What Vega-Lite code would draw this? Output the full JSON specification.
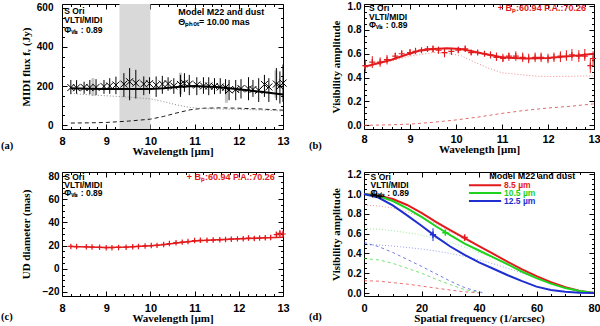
{
"$schema": "https://vega.github.io/schema/vega-lite/v6.json",
"background": "white",
"padding": {"left": 0, "top": 0, "right": 0, "bottom": 0},
"columns": 2,
"spacing": {"row": 43, "column": 81},
"bounds": "flush",
"resolve": {"scale": {"color": "independent"}, "legend": {"color": "independent"}},
"datasets": {
"a_pts": [
{"w":8.20,"f":192,"lo":158,"hi":231},{"w":8.33,"f":191,"lo":160,"hi":230},{"w":8.50,"f":193,"lo":160,"hi":222},{"w":8.63,"f":192,"lo":158,"hi":231},{"w":8.77,"f":193,"lo":153,"hi":235},{"w":8.95,"f":198,"lo":160,"hi":231},{"w":9.08,"f":200,"lo":160,"hi":240},{"w":9.22,"f":205,"lo":158,"hi":248},{"w":9.40,"f":210,"lo":144,"hi":266},{"w":9.53,"f":222,"lo":127,"hi":292},{"w":9.67,"f":215,"lo":136,"hi":283},{"w":9.85,"f":210,"lo":153,"hi":249},{"w":9.98,"f":212,"lo":160,"hi":245},{"w":10.13,"f":205,"lo":144,"hi":249},{"w":10.27,"f":210,"lo":160,"hi":252},{"w":10.40,"f":212,"lo":176,"hi":245},{"w":10.53,"f":200,"lo":160,"hi":240},{"w":10.68,"f":208,"lo":144,"hi":257},{"w":10.77,"f":214,"lo":170,"hi":266},{"w":10.88,"f":210,"lo":153,"hi":257},{"w":11.05,"f":205,"lo":153,"hi":245},{"w":11.20,"f":200,"lo":160,"hi":245},{"w":11.32,"f":200,"lo":153,"hi":245},{"w":11.45,"f":198,"lo":158,"hi":240},{"w":11.58,"f":195,"lo":160,"hi":240},{"w":11.70,"f":193,"lo":158,"hi":235},{"w":11.78,"f":180,"lo":127,"hi":231},{"w":11.93,"f":182,"lo":127,"hi":231},{"w":12.05,"f":187,"lo":136,"hi":235},{"w":12.22,"f":185,"lo":127,"hi":245},{"w":12.32,"f":182,"lo":144,"hi":231},{"w":12.45,"f":178,"lo":118,"hi":240},{"w":12.58,"f":208,"lo":144,"hi":257},{"w":12.68,"f":195,"lo":118,"hi":240},{"w":12.85,"f":210,"lo":127,"hi":292},{"w":12.93,"f":200,"lo":110,"hi":275},{"w":13.00,"f":215,"lo":118,"hi":310}
],
"a_gray": [{"w":8.70,"lo":150,"hi":240},{"w":10.68,"lo":157,"hi":268},{"w":11.72,"lo":114,"hi":200},{"w":12.84,"lo":140,"hi":280}],
"a_model": [{"w":8.2,"f":188},{"w":8.6,"f":186},{"w":9.0,"f":185},{"w":9.5,"f":184},{"w":10.0,"f":185},{"w":10.3,"f":188},{"w":10.6,"f":195},{"w":11.0,"f":200},{"w":11.5,"f":195},{"w":12.0,"f":183},{"w":12.5,"f":170},{"w":13.0,"f":156}],
"a_star": [{"w":8.2,"f":162},{"w":8.6,"f":155},{"w":9.0,"f":150},{"w":9.5,"f":143},{"w":10.0,"f":134},{"w":10.3,"f":120},{"w":10.6,"f":103},{"w":10.9,"f":90},{"w":11.2,"f":84},{"w":11.6,"f":82},{"w":12.0,"f":80},{"w":12.5,"f":77},{"w":13.0,"f":72}],
"a_dust": [{"w":8.2,"f":10},{"w":8.6,"f":11},{"w":9.0,"f":13},{"w":9.5,"f":20},{"w":10.0,"f":30},{"w":10.3,"f":44},{"w":10.6,"f":62},{"w":10.9,"f":78},{"w":11.2,"f":86},{"w":11.6,"f":88},{"w":12.0,"f":86},{"w":12.5,"f":82},{"w":13.0,"f":76}],
"b_pts": [
{"w":8.03,"v":0.50,"lo":0.45,"hi":0.55},{"w":8.18,"v":0.53,"lo":0.48,"hi":0.58},{"w":8.35,"v":0.53,"lo":0.49,"hi":0.57},{"w":8.50,"v":0.55,"lo":0.51,"hi":0.59},{"w":8.68,"v":0.58,"lo":0.55,"hi":0.61},{"w":8.82,"v":0.60,"lo":0.57,"hi":0.63},{"w":9.00,"v":0.61,"lo":0.59,"hi":0.64},{"w":9.12,"v":0.62,"lo":0.60,"hi":0.65},{"w":9.25,"v":0.63,"lo":0.61,"hi":0.65},{"w":9.38,"v":0.64,"lo":0.62,"hi":0.66},{"w":9.50,"v":0.64,"lo":0.61,"hi":0.67},{"w":9.62,"v":0.63,"lo":0.60,"hi":0.66},{"w":9.75,"v":0.61,"lo":0.57,"hi":0.64},{"w":9.90,"v":0.62,"lo":0.59,"hi":0.65},{"w":10.05,"v":0.63,"lo":0.61,"hi":0.66},{"w":10.20,"v":0.64,"lo":0.62,"hi":0.67},{"w":10.33,"v":0.61,"lo":0.59,"hi":0.63},{"w":10.47,"v":0.61,"lo":0.59,"hi":0.63},{"w":10.62,"v":0.60,"lo":0.58,"hi":0.62},{"w":10.75,"v":0.59,"lo":0.56,"hi":0.62},{"w":10.88,"v":0.57,"lo":0.54,"hi":0.61},{"w":11.02,"v":0.56,"lo":0.53,"hi":0.60},{"w":11.15,"v":0.58,"lo":0.54,"hi":0.61},{"w":11.30,"v":0.58,"lo":0.54,"hi":0.62},{"w":11.45,"v":0.57,"lo":0.53,"hi":0.61},{"w":11.58,"v":0.56,"lo":0.52,"hi":0.60},{"w":11.72,"v":0.57,"lo":0.53,"hi":0.61},{"w":11.85,"v":0.57,"lo":0.53,"hi":0.61},{"w":12.00,"v":0.56,"lo":0.52,"hi":0.60},{"w":12.13,"v":0.57,"lo":0.53,"hi":0.61},{"w":12.27,"v":0.58,"lo":0.53,"hi":0.62},{"w":12.40,"v":0.58,"lo":0.54,"hi":0.63},{"w":12.52,"v":0.59,"lo":0.54,"hi":0.64},{"w":12.67,"v":0.58,"lo":0.53,"hi":0.63},{"w":12.80,"v":0.58,"lo":0.54,"hi":0.64},{"w":12.92,"v":0.50,"lo":0.44,"hi":0.56},{"w":12.98,"v":0.56,"lo":0.50,"hi":0.62}
],
"b_model": [{"w":8.0,"v":0.49},{"w":8.3,"v":0.52},{"w":8.6,"v":0.55},{"w":8.9,"v":0.59},{"w":9.2,"v":0.625},{"w":9.5,"v":0.64},{"w":9.8,"v":0.645},{"w":10.1,"v":0.64},{"w":10.3,"v":0.625},{"w":10.6,"v":0.60},{"w":11.0,"v":0.57},{"w":11.5,"v":0.56},{"w":12.0,"v":0.565},{"w":12.5,"v":0.58},{"w":13.0,"v":0.60}],
"b_star": [{"w":8.0,"v":0.48},{"w":8.5,"v":0.53},{"w":9.0,"v":0.58},{"w":9.5,"v":0.61},{"w":9.8,"v":0.605},{"w":10.1,"v":0.585},{"w":10.4,"v":0.53},{"w":10.7,"v":0.48},{"w":11.0,"v":0.44},{"w":11.4,"v":0.425},{"w":11.8,"v":0.41},{"w":12.4,"v":0.41},{"w":13.0,"v":0.415}],
"b_dust": [{"w":8.0,"v":0.0},{"w":8.5,"v":0.003},{"w":9.0,"v":0.01},{"w":9.5,"v":0.025},{"w":10.0,"v":0.045},{"w":10.5,"v":0.07},{"w":11.0,"v":0.10},{"w":11.5,"v":0.125},{"w":12.0,"v":0.145},{"w":12.5,"v":0.16},{"w":13.0,"v":0.18}],
"c_pts": [
{"w":8.20,"d":19.3,"lo":18.5,"hi":20.1},{"w":8.33,"d":19.2,"lo":18.4,"hi":20.0},{"w":8.55,"d":19.0,"lo":18.2,"hi":19.8},{"w":8.68,"d":18.8,"lo":18.0,"hi":19.6},{"w":8.85,"d":18.5,"lo":17.7,"hi":19.3},{"w":9.00,"d":18.2,"lo":17.4,"hi":19.0},{"w":9.13,"d":18.2,"lo":17.4,"hi":19.0},{"w":9.28,"d":18.4,"lo":17.6,"hi":19.2},{"w":9.45,"d":18.6,"lo":17.6,"hi":19.6},{"w":9.60,"d":19.0,"lo":17.8,"hi":20.2},{"w":9.73,"d":19.3,"lo":18.3,"hi":20.3},{"w":9.88,"d":19.7,"lo":18.8,"hi":20.6},{"w":10.02,"d":20.0,"lo":19.1,"hi":20.9},{"w":10.15,"d":20.2,"lo":19.3,"hi":21.1},{"w":10.30,"d":21.0,"lo":20.2,"hi":21.8},{"w":10.43,"d":21.8,"lo":21.0,"hi":22.6},{"w":10.58,"d":22.5,"lo":21.6,"hi":23.4},{"w":10.72,"d":23.0,"lo":22.0,"hi":24.0},{"w":10.85,"d":23.5,"lo":22.5,"hi":24.5},{"w":11.00,"d":24.3,"lo":23.2,"hi":25.4},{"w":11.13,"d":24.6,"lo":23.5,"hi":25.7},{"w":11.28,"d":24.6,"lo":23.4,"hi":25.8},{"w":11.42,"d":24.8,"lo":23.6,"hi":26.0},{"w":11.57,"d":25.0,"lo":23.8,"hi":26.2},{"w":11.70,"d":25.2,"lo":24.0,"hi":26.4},{"w":11.83,"d":25.5,"lo":24.2,"hi":26.8},{"w":11.97,"d":25.8,"lo":24.4,"hi":27.2},{"w":12.10,"d":26.0,"lo":24.6,"hi":27.4},{"w":12.22,"d":26.5,"lo":24.5,"hi":28.5},{"w":12.35,"d":26.2,"lo":24.6,"hi":27.8},{"w":12.47,"d":26.5,"lo":24.8,"hi":28.2},{"w":12.60,"d":26.8,"lo":25.0,"hi":28.6},{"w":12.72,"d":27.0,"lo":24.8,"hi":29.2},{"w":12.85,"d":29.5,"lo":27.0,"hi":32.0},{"w":12.93,"d":30.5,"lo":27.5,"hi":33.5},{"w":13.00,"d":30.0,"lo":27.0,"hi":33.0}
],
"c_model": [{"w":8.2,"d":19.2},{"w":8.6,"d":18.9},{"w":9.0,"d":18.4},{"w":9.5,"d":18.7},{"w":10.0,"d":19.8},{"w":10.3,"d":20.8},{"w":10.6,"d":22.3},{"w":11.0,"d":24.0},{"w":11.5,"d":25.0},{"w":12.0,"d":25.8},{"w":12.5,"d":26.5},{"w":13.0,"d":27.2}],
"d_solid": [
{"lam":"8.5 µm","f":0,"v":1.0},{"lam":"8.5 µm","f":5,"v":0.985},{"lam":"8.5 µm","f":10,"v":0.95},{"lam":"8.5 µm","f":15,"v":0.89},{"lam":"8.5 µm","f":20,"v":0.81},{"lam":"8.5 µm","f":25,"v":0.72},{"lam":"8.5 µm","f":30,"v":0.635},{"lam":"8.5 µm","f":35,"v":0.555},{"lam":"8.5 µm","f":40,"v":0.475},{"lam":"8.5 µm","f":45,"v":0.395},{"lam":"8.5 µm","f":50,"v":0.315},{"lam":"8.5 µm","f":55,"v":0.24},{"lam":"8.5 µm","f":60,"v":0.17},{"lam":"8.5 µm","f":65,"v":0.11},{"lam":"8.5 µm","f":70,"v":0.06},{"lam":"8.5 µm","f":75,"v":0.02},{"lam":"8.5 µm","f":80,"v":0.0},
{"lam":"10.5 µm","f":0,"v":1.0},{"lam":"10.5 µm","f":5,"v":0.98},{"lam":"10.5 µm","f":10,"v":0.93},{"lam":"10.5 µm","f":15,"v":0.855},{"lam":"10.5 µm","f":20,"v":0.77},{"lam":"10.5 µm","f":25,"v":0.675},{"lam":"10.5 µm","f":30,"v":0.585},{"lam":"10.5 µm","f":35,"v":0.5},{"lam":"10.5 µm","f":40,"v":0.43},{"lam":"10.5 µm","f":45,"v":0.36},{"lam":"10.5 µm","f":50,"v":0.29},{"lam":"10.5 µm","f":55,"v":0.215},{"lam":"10.5 µm","f":60,"v":0.15},{"lam":"10.5 µm","f":65,"v":0.095},{"lam":"10.5 µm","f":70,"v":0.05},{"lam":"10.5 µm","f":75,"v":0.02},{"lam":"10.5 µm","f":80,"v":0.0},
{"lam":"12.5 µm","f":0,"v":1.0},{"lam":"12.5 µm","f":5,"v":0.965},{"lam":"12.5 µm","f":10,"v":0.885},{"lam":"12.5 µm","f":15,"v":0.785},{"lam":"12.5 µm","f":20,"v":0.68},{"lam":"12.5 µm","f":25,"v":0.57},{"lam":"12.5 µm","f":30,"v":0.47},{"lam":"12.5 µm","f":35,"v":0.385},{"lam":"12.5 µm","f":40,"v":0.31},{"lam":"12.5 µm","f":45,"v":0.245},{"lam":"12.5 µm","f":50,"v":0.18},{"lam":"12.5 µm","f":55,"v":0.12},{"lam":"12.5 µm","f":60,"v":0.065},{"lam":"12.5 µm","f":65,"v":0.03},{"lam":"12.5 µm","f":70,"v":0.012},{"lam":"12.5 µm","f":75,"v":0.003},{"lam":"12.5 µm","f":80,"v":0.0}
],
"d_star": [
{"lam":"8.5 µm","f":0,"v":0.89},{"lam":"8.5 µm","f":5,"v":0.88},{"lam":"8.5 µm","f":10,"v":0.86},{"lam":"8.5 µm","f":15,"v":0.82},{"lam":"8.5 µm","f":20,"v":0.77},{"lam":"8.5 µm","f":25,"v":0.70},{"lam":"8.5 µm","f":30,"v":0.62},{"lam":"8.5 µm","f":35,"v":0.545},{"lam":"8.5 µm","f":40,"v":0.47},{"lam":"8.5 µm","f":45,"v":0.39},{"lam":"8.5 µm","f":50,"v":0.315},{"lam":"8.5 µm","f":55,"v":0.24},{"lam":"8.5 µm","f":60,"v":0.17},{"lam":"8.5 µm","f":65,"v":0.11},{"lam":"8.5 µm","f":70,"v":0.06},{"lam":"8.5 µm","f":75,"v":0.02},{"lam":"8.5 µm","f":80,"v":0.0},
{"lam":"10.5 µm","f":0,"v":0.65},{"lam":"10.5 µm","f":5,"v":0.645},{"lam":"10.5 µm","f":10,"v":0.63},{"lam":"10.5 µm","f":15,"v":0.61},{"lam":"10.5 µm","f":20,"v":0.585},{"lam":"10.5 µm","f":25,"v":0.55},{"lam":"10.5 µm","f":30,"v":0.51},{"lam":"10.5 µm","f":35,"v":0.465},{"lam":"10.5 µm","f":40,"v":0.41},{"lam":"10.5 µm","f":45,"v":0.35},{"lam":"10.5 µm","f":50,"v":0.285},{"lam":"10.5 µm","f":55,"v":0.215},{"lam":"10.5 µm","f":60,"v":0.15},{"lam":"10.5 µm","f":65,"v":0.095},{"lam":"10.5 µm","f":70,"v":0.05},{"lam":"10.5 µm","f":75,"v":0.02},{"lam":"10.5 µm","f":80,"v":0.0},
{"lam":"12.5 µm","f":0,"v":0.49},{"lam":"12.5 µm","f":5,"v":0.485},{"lam":"12.5 µm","f":10,"v":0.475},{"lam":"12.5 µm","f":15,"v":0.46},{"lam":"12.5 µm","f":20,"v":0.445},{"lam":"12.5 µm","f":25,"v":0.425},{"lam":"12.5 µm","f":30,"v":0.40},{"lam":"12.5 µm","f":35,"v":0.37},{"lam":"12.5 µm","f":40,"v":0.335},{"lam":"12.5 µm","f":45,"v":0.295},{"lam":"12.5 µm","f":50,"v":0.25},{"lam":"12.5 µm","f":55,"v":0.2},{"lam":"12.5 µm","f":60,"v":0.15},{"lam":"12.5 µm","f":65,"v":0.105},{"lam":"12.5 µm","f":70,"v":0.065},{"lam":"12.5 µm","f":75,"v":0.03},{"lam":"12.5 µm","f":80,"v":0.01}
],
"d_dust": [
{"lam":"8.5 µm","f":0,"v":0.125},{"lam":"8.5 µm","f":5,"v":0.12},{"lam":"8.5 µm","f":10,"v":0.105},{"lam":"8.5 µm","f":15,"v":0.09},{"lam":"8.5 µm","f":20,"v":0.07},{"lam":"8.5 µm","f":25,"v":0.05},{"lam":"8.5 µm","f":30,"v":0.03},{"lam":"8.5 µm","f":35,"v":0.012},{"lam":"8.5 µm","f":40,"v":0.002},
{"lam":"10.5 µm","f":0,"v":0.35},{"lam":"10.5 µm","f":5,"v":0.335},{"lam":"10.5 µm","f":10,"v":0.30},{"lam":"10.5 µm","f":15,"v":0.25},{"lam":"10.5 µm","f":20,"v":0.20},{"lam":"10.5 µm","f":25,"v":0.14},{"lam":"10.5 µm","f":30,"v":0.085},{"lam":"10.5 µm","f":35,"v":0.035},{"lam":"10.5 µm","f":40,"v":0.005},
{"lam":"12.5 µm","f":0,"v":0.51},{"lam":"12.5 µm","f":5,"v":0.47},{"lam":"12.5 µm","f":10,"v":0.41},{"lam":"12.5 µm","f":15,"v":0.34},{"lam":"12.5 µm","f":20,"v":0.27},{"lam":"12.5 µm","f":25,"v":0.195},{"lam":"12.5 µm","f":30,"v":0.12},{"lam":"12.5 µm","f":35,"v":0.055},{"lam":"12.5 µm","f":40,"v":0.012},{"lam":"12.5 µm","f":42,"v":0.0}
],
"d_pts": [{"lam":"8.5 µm","f":35,"v":0.56,"lo":0.53,"hi":0.59},{"lam":"10.5 µm","f":28.3,"v":0.61,"lo":0.595,"hi":0.625},{"lam":"12.5 µm","f":24,"v":0.59,"lo":0.525,"hi":0.655}],
"d_blk": [{"f":3.0,"v":0.99,"lo":0.98,"hi":1.0},{"f":4.3,"v":0.985,"lo":0.975,"hi":0.995},{"f":5.6,"v":0.975,"lo":0.965,"hi":0.985}]
},
"concat": [
{
"width": 221, "height": 125,
"resolve": {"axis": {"x": "independent", "y": "independent"}},
"layer": [
{"data": {"values": [{"lo": 9.3, "hi": 10.0}]}, "mark": {"type": "rect", "color": "#d9d9d9"},
 "encoding": {"x": {"field": "lo", "type": "quantitative", "axis": null, "scale": {"domain": [8, 13], "nice": false, "zero": false}}, "x2": {"field": "hi"}}},
{"data": {"name": "a_gray"}, "mark": {"type": "rule", "color": "#c4c4c4", "strokeWidth": 3},
 "encoding": {"x": {"field": "w", "type": "quantitative", "axis": null}, "y": {"field": "lo", "type": "quantitative", "axis": null, "scale": {"domain": [-20.5, 620.5], "nice": false, "zero": false}}, "y2": {"field": "hi"}}},
{"data": {"name": "a_pts"}, "mark": {"type": "rule", "color": "black", "strokeWidth": 1},
 "encoding": {"x": {"field": "w", "type": "quantitative", "axis": null}, "y": {"field": "lo", "type": "quantitative", "axis": null}, "y2": {"field": "hi"}}},
{"data": {"name": "a_dust"}, "mark": {"type": "line", "color": "black", "strokeWidth": 0.9, "strokeDash": [4, 3]},
 "encoding": {"x": {"field": "w", "type": "quantitative", "axis": {"orient": "bottom", "values": [8.2,8.4,8.6,8.8,9.2,9.4,9.6,9.8,10.2,10.4,10.6,10.8,11.2,11.4,11.6,11.8,12.2,12.4,12.6,12.8], "labels": false, "title": null, "tickSize": -2.5}},
  "y": {"field": "f", "type": "quantitative", "axis": {"orient": "left", "values": [50,100,150,250,300,350,450,500,550], "labels": false, "title": null, "tickSize": -2.5}}}},
{"data": {"name": "a_star"}, "mark": {"type": "line", "color": "#8a8a8a", "strokeWidth": 1, "strokeDash": [1, 2]},
 "encoding": {"x": {"field": "w", "type": "quantitative", "axis": {"orient": "top", "values": [8,9,10,11,12,13], "labels": false, "title": null, "tickSize": -5}},
  "y": {"field": "f", "type": "quantitative", "axis": {"orient": "right", "values": [0,200,400,600], "labels": false, "title": null, "tickSize": -5}}}},
{"data": {"name": "a_model"}, "mark": {"type": "line", "color": "black", "strokeWidth": 2},
 "encoding": {"x": {"field": "w", "type": "quantitative", "axis": {"orient": "bottom", "values": [8,9,10,11,12,13], "title": "Wavelength [µm]", "tickSize": -5, "labelPadding": 11, "titlePadding": -1}},
  "y": {"field": "f", "type": "quantitative", "axis": {"orient": "left", "values": [0,200,400,600], "title": "MIDI flux fᵥ (Jy)", "tickSize": -5, "labelPadding": 14, "titlePadding": 5}}}},
{"data": {"name": "a_pts"}, "mark": {"type": "point", "shape": "M-1,-1L1,1M-1,1L1,-1", "filled": false, "color": "black", "strokeWidth": 1, "size": 49, "opacity": 1},
 "encoding": {"x": {"field": "w", "type": "quantitative", "axis": {"orient": "top", "values": [8.2,8.4,8.6,8.8,9.2,9.4,9.6,9.8,10.2,10.4,10.6,10.8,11.2,11.4,11.6,11.8,12.2,12.4,12.6,12.8], "labels": false, "title": null, "tickSize": -2.5}},
  "y": {"field": "f", "type": "quantitative", "axis": {"orient": "right", "values": [50,100,150,250,300,350,450,500,550], "labels": false, "title": null, "tickSize": -2.5}}}},
{"data": {"values": [{}]}, "mark": {"type": "text", "align": "left", "baseline": "top", "fontSize": 8.5, "lineHeight": 9.5, "color": "black"},
 "encoding": {"x": {"datum": 8.05, "type": "quantitative", "axis": null}, "y": {"datum": 607, "type": "quantitative", "axis": null}, "text": {"value": ["S Ori", "VLTI/MIDI", "Φᵥᵢₛ : 0.89"]}}},
{"data": {"values": [{}]}, "mark": {"type": "text", "align": "left", "baseline": "top", "fontSize": 9, "lineHeight": 9.5, "color": "black"},
 "encoding": {"x": {"datum": 10.63, "type": "quantitative", "axis": null}, "y": {"datum": 598, "type": "quantitative", "axis": null}, "text": {"value": ["Model M22 and dust", " Θₚₕₒₜ= 10.00 mas"]}}},
{"data": {"values": [{}]}, "mark": {"type": "text", "align": "left", "baseline": "middle", "font": "Liberation Serif", "fontSize": 10.5, "color": "black"},
 "encoding": {"x": {"datum": 6.62, "type": "quantitative", "axis": null}, "y": {"datum": -110, "type": "quantitative", "axis": null}, "text": {"value": "(a)"}}}
]
},
{
"width": 230, "height": 125,
"resolve": {"axis": {"x": "independent", "y": "independent"}},
"layer": [
{"data": {"name": "b_dust"}, "mark": {"type": "line", "color": "#e05a5a", "strokeWidth": 0.9, "strokeDash": [3, 3]},
 "encoding": {"x": {"field": "w", "type": "quantitative", "scale": {"domain": [8, 13], "nice": false, "zero": false}, "axis": {"orient": "bottom", "values": [8.2,8.4,8.6,8.8,9.2,9.4,9.6,9.8,10.2,10.4,10.6,10.8,11.2,11.4,11.6,11.8,12.2,12.4,12.6,12.8], "labels": false, "title": null, "tickSize": -2.5}},
  "y": {"field": "v", "type": "quantitative", "scale": {"domain": [-0.031, 1.017], "nice": false, "zero": false}, "axis": {"orient": "left", "values": [0.05,0.1,0.15,0.25,0.3,0.35,0.45,0.5,0.55,0.65,0.7,0.75,0.85,0.9,0.95], "labels": false, "title": null, "tickSize": -2.5}}}},
{"data": {"name": "b_star"}, "mark": {"type": "line", "color": "#f08c8c", "strokeWidth": 1, "strokeDash": [1, 2]},
 "encoding": {"x": {"field": "w", "type": "quantitative", "axis": {"orient": "top", "values": [8,9,10,11,12,13], "labels": false, "title": null, "tickSize": -5}},
  "y": {"field": "v", "type": "quantitative", "axis": {"orient": "right", "values": [0,0.2,0.4,0.6,0.8,1.0], "labels": false, "title": null, "tickSize": -5}}}},
{"data": {"name": "b_pts"}, "mark": {"type": "rule", "color": "#e31a1c", "strokeWidth": 1},
 "encoding": {"x": {"field": "w", "type": "quantitative", "axis": {"orient": "top", "values": [8.2,8.4,8.6,8.8,9.2,9.4,9.6,9.8,10.2,10.4,10.6,10.8,11.2,11.4,11.6,11.8,12.2,12.4,12.6,12.8], "labels": false, "title": null, "tickSize": -2.5}},
  "y": {"field": "lo", "type": "quantitative", "axis": {"orient": "right", "values": [0.05,0.1,0.15,0.25,0.3,0.35,0.45,0.5,0.55,0.65,0.7,0.75,0.85,0.9,0.95], "labels": false, "title": null, "tickSize": -2.5}}, "y2": {"field": "hi"}}},
{"data": {"name": "b_model"}, "mark": {"type": "line", "color": "#e31a1c", "strokeWidth": 2},
 "encoding": {"x": {"field": "w", "type": "quantitative", "axis": {"orient": "bottom", "values": [8,9,10,11,12,13], "title": "Wavelength [µm]", "tickSize": -5, "labelPadding": 9, "titlePadding": -1}},
  "y": {"field": "v", "type": "quantitative", "axis": {"orient": "left", "values": [0,0.2,0.4,0.6,0.8,1.0], "format": ".1f", "title": "Visibility amplitude", "tickSize": -5, "labelPadding": 8, "titlePadding": 6}}}},
{"data": {"name": "b_pts"}, "mark": {"type": "point", "shape": "M-1,0L1,0M0,-1L0,1", "filled": false, "color": "#e31a1c", "strokeWidth": 1.2, "size": 36, "opacity": 1},
 "encoding": {"x": {"field": "w", "type": "quantitative", "axis": null}, "y": {"field": "v", "type": "quantitative", "axis": null}}},
{"data": {"values": [{}]}, "mark": {"type": "text", "align": "left", "baseline": "top", "fontSize": 8.5, "lineHeight": 8.5, "color": "black"},
 "encoding": {"x": {"datum": 8.11, "type": "quantitative", "axis": null}, "y": {"datum": 1.014, "type": "quantitative", "axis": null}, "text": {"value": ["S Ori", "VLTI/MIDI", "Φᵥᵢₛ : 0.89"]}}},
{"data": {"values": [{}]}, "mark": {"type": "text", "align": "left", "baseline": "top", "fontSize": 9, "color": "#e31a1c"},
 "encoding": {"x": {"datum": 10.91, "type": "quantitative", "axis": null}, "y": {"datum": 1.016, "type": "quantitative", "axis": null}, "text": {"value": "+ Bₚ:60.94  P.A.:70.26"}}},
{"data": {"values": [{}]}, "mark": {"type": "text", "align": "left", "baseline": "middle", "font": "Liberation Serif", "fontSize": 10.5, "color": "black"},
 "encoding": {"x": {"datum": 6.804, "type": "quantitative", "axis": null}, "y": {"datum": -0.175, "type": "quantitative", "axis": null}, "text": {"value": "(b)"}}}
]
},
{
"width": 221, "height": 124,
"resolve": {"axis": {"x": "independent", "y": "independent"}},
"layer": [
{"data": {"name": "c_pts"}, "mark": {"type": "rule", "color": "#e31a1c", "strokeWidth": 1},
 "encoding": {"x": {"field": "w", "type": "quantitative", "scale": {"domain": [8, 13], "nice": false, "zero": false}, "axis": {"orient": "bottom", "values": [8.2,8.4,8.6,8.8,9.2,9.4,9.6,9.8,10.2,10.4,10.6,10.8,11.2,11.4,11.6,11.8,12.2,12.4,12.6,12.8], "labels": false, "title": null, "tickSize": -2.5}},
  "y": {"field": "lo", "type": "quantitative", "scale": {"domain": [-23.45, 83.45], "nice": false, "zero": false}, "axis": {"orient": "left", "values": [-15,-10,-5,5,10,15,25,30,35,45,50,55,65,70,75], "labels": false, "title": null, "tickSize": -2.5}}, "y2": {"field": "hi"}}},
{"data": {"name": "c_model"}, "mark": {"type": "line", "color": "#e31a1c", "strokeWidth": 1.5},
 "encoding": {"x": {"field": "w", "type": "quantitative", "axis": {"orient": "bottom", "values": [8,9,10,11,12,13], "title": "Wavelength [µm]", "tickSize": -5, "labelPadding": 11, "titlePadding": -1}},
  "y": {"field": "d", "type": "quantitative", "axis": {"orient": "left", "values": [-20,0,20,40,60,80], "title": "UD diameter (mas)", "tickSize": -5, "labelPadding": 8, "titlePadding": 11}}}},
{"data": {"name": "c_pts"}, "mark": {"type": "point", "shape": "M-1,0L1,0M0,-1L0,1", "filled": false, "color": "#e31a1c", "strokeWidth": 1.2, "size": 30, "opacity": 1},
 "encoding": {"x": {"field": "w", "type": "quantitative", "axis": {"orient": "top", "values": [8,9,10,11,12,13], "labels": false, "title": null, "tickSize": -5}},
  "y": {"field": "d", "type": "quantitative", "axis": {"orient": "right", "values": [-20,0,20,40,60,80], "labels": false, "title": null, "tickSize": -5}}}},
{"data": {"name": "c_model"}, "mark": {"type": "line", "color": "#e31a1c", "strokeWidth": 0, "opacity": 0},
 "encoding": {"x": {"field": "w", "type": "quantitative", "axis": {"orient": "top", "values": [8.2,8.4,8.6,8.8,9.2,9.4,9.6,9.8,10.2,10.4,10.6,10.8,11.2,11.4,11.6,11.8,12.2,12.4,12.6,12.8], "labels": false, "title": null, "tickSize": -2.5}},
  "y": {"field": "d", "type": "quantitative", "axis": {"orient": "right", "values": [-15,-10,-5,5,10,15,25,30,35,45,50,55,65,70,75], "labels": false, "title": null, "tickSize": -2.5}}}},
{"data": {"values": [{}]}, "mark": {"type": "text", "align": "left", "baseline": "top", "fontSize": 8.5, "lineHeight": 8, "color": "black"},
 "encoding": {"x": {"datum": 8.05, "type": "quantitative", "axis": null}, "y": {"datum": 83, "type": "quantitative", "axis": null}, "text": {"value": ["S Ori", "VLTI/MIDI", "Φᵥᵢₛ : 0.89"]}}},
{"data": {"values": [{}]}, "mark": {"type": "text", "align": "left", "baseline": "top", "fontSize": 9, "color": "#e31a1c"},
 "encoding": {"x": {"datum": 10.82, "type": "quantitative", "axis": null}, "y": {"datum": 83, "type": "quantitative", "axis": null}, "text": {"value": "+ Bₚ:60.94  P.A.:70.26"}}},
{"data": {"values": [{}]}, "mark": {"type": "text", "align": "left", "baseline": "middle", "font": "Liberation Serif", "fontSize": 10.5, "color": "black"},
 "encoding": {"x": {"datum": 6.62, "type": "quantitative", "axis": null}, "y": {"datum": -41.5, "type": "quantitative", "axis": null}, "text": {"value": "(c)"}}}
]
},
{
"width": 230, "height": 124,
"resolve": {"axis": {"x": "independent", "y": "independent"}},
"layer": [
{"data": {"name": "d_dust"}, "mark": {"type": "line", "strokeWidth": 0.9, "strokeDash": [3, 3], "opacity": 0.7},
 "encoding": {"x": {"field": "f", "type": "quantitative", "scale": {"domain": [0, 80], "nice": false, "zero": false}, "axis": {"orient": "bottom", "values": [5,10,15,25,30,35,45,50,55,65,70,75], "labels": false, "title": null, "tickSize": -2.5}},
  "y": {"field": "v", "type": "quantitative", "scale": {"domain": [-0.03, 1.223], "nice": false, "zero": false}, "axis": {"orient": "left", "values": [0.05,0.1,0.15,0.25,0.3,0.35,0.45,0.5,0.55,0.65,0.7,0.75,0.85,0.9,0.95,1.05,1.1,1.15], "labels": false, "title": null, "tickSize": -2.5}},
  "color": {"field": "lam", "type": "nominal", "legend": null, "scale": {"domain": ["8.5 µm", "10.5 µm", "12.5 µm"], "range": ["#e31a1c", "#1ed21e", "#1f2fd0"]}}}},
{"data": {"name": "d_star"}, "mark": {"type": "line", "strokeWidth": 1, "strokeDash": [1, 2], "opacity": 0.45},
 "encoding": {"x": {"field": "f", "type": "quantitative", "axis": {"orient": "top", "values": [0,20,40,60,80], "labels": false, "title": null, "tickSize": -5}},
  "y": {"field": "v", "type": "quantitative", "axis": {"orient": "right", "values": [0,0.2,0.4,0.6,0.8,1.0,1.2], "labels": false, "title": null, "tickSize": -5}},
  "color": {"field": "lam", "type": "nominal", "legend": null}}},
{"data": {"name": "d_solid"}, "mark": {"type": "line", "strokeWidth": 2},
 "encoding": {"x": {"field": "f", "type": "quantitative", "axis": {"orient": "bottom", "values": [0,20,40,60,80], "title": "Spatial frequency (1/arcsec)", "tickSize": -5, "labelPadding": 11, "titlePadding": -1}},
  "y": {"field": "v", "type": "quantitative", "axis": {"orient": "left", "values": [0,0.2,0.4,0.6,0.8,1.0,1.2], "format": ".1f", "title": "Visibility amplitude", "tickSize": -5, "labelPadding": 8, "titlePadding": 6}},
  "color": {"field": "lam", "type": "nominal", "legend": null}}},
{"data": {"name": "d_pts"}, "mark": {"type": "rule", "strokeWidth": 1},
 "encoding": {"x": {"field": "f", "type": "quantitative", "axis": {"orient": "top", "values": [5,10,15,25,30,35,45,50,55,65,70,75], "labels": false, "title": null, "tickSize": -2.5}},
  "y": {"field": "lo", "type": "quantitative", "axis": {"orient": "right", "values": [0.05,0.1,0.15,0.25,0.3,0.35,0.45,0.5,0.55,0.65,0.7,0.75,0.85,0.9,0.95,1.05,1.1,1.15], "labels": false, "title": null, "tickSize": -2.5}}, "y2": {"field": "hi"},
  "color": {"field": "lam", "type": "nominal", "legend": null}}},
{"data": {"name": "d_pts"}, "mark": {"type": "point", "shape": "M-1,0L1,0M0,-1L0,1", "filled": false, "strokeWidth": 1.5, "size": 40, "opacity": 1},
 "encoding": {"x": {"field": "f", "type": "quantitative", "axis": null}, "y": {"field": "v", "type": "quantitative", "axis": null}, "color": {"field": "lam", "type": "nominal", "legend": null}}},
{"data": {"name": "d_blk"}, "mark": {"type": "point", "shape": "M-1,0L1,0M0,-1L0,1", "filled": false, "strokeWidth": 1.2, "size": 25, "color": "black", "opacity": 1},
 "encoding": {"x": {"field": "f", "type": "quantitative", "axis": null}, "y": {"field": "v", "type": "quantitative", "axis": null}}},
{"data": {"values": [{}]}, "mark": {"type": "text", "align": "left", "baseline": "top", "fontSize": 8.5, "lineHeight": 8, "color": "black"},
 "encoding": {"x": {"datum": 2.3, "type": "quantitative", "axis": null}, "y": {"datum": 1.215, "type": "quantitative", "axis": null}, "text": {"value": ["S Ori", "VLTI/MIDI", "Φᵥᵢₛ : 0.89"]}}},
{"data": {"values": [{}]}, "mark": {"type": "text", "align": "left", "baseline": "top", "fontSize": 9, "color": "black"},
 "encoding": {"x": {"datum": 43.6, "type": "quantitative", "axis": null}, "y": {"datum": 1.222, "type": "quantitative", "axis": null}, "text": {"value": "Model M22 and dust"}}},
{"data": {"values": [{}]}, "mark": {"type": "rule", "strokeWidth": 2, "color": "#e31a1c"},
 "encoding": {"x": {"datum": 36.5, "type": "quantitative", "axis": null}, "x2": {"datum": 47.7}, "y": {"datum": 1.09, "type": "quantitative", "axis": null}}},
{"data": {"values": [{}]}, "mark": {"type": "rule", "strokeWidth": 2, "color": "#1ed21e"},
 "encoding": {"x": {"datum": 36.5, "type": "quantitative", "axis": null}, "x2": {"datum": 47.7}, "y": {"datum": 1.01, "type": "quantitative", "axis": null}}},
{"data": {"values": [{}]}, "mark": {"type": "rule", "strokeWidth": 2, "color": "#1f2fd0"},
 "encoding": {"x": {"datum": 36.5, "type": "quantitative", "axis": null}, "x2": {"datum": 47.7}, "y": {"datum": 0.93, "type": "quantitative", "axis": null}}},
{"data": {"values": [{}]}, "mark": {"type": "text", "align": "left", "baseline": "middle", "fontSize": 8.5, "color": "#e31a1c"},
 "encoding": {"x": {"datum": 48.7, "type": "quantitative", "axis": null}, "y": {"datum": 1.09, "type": "quantitative", "axis": null}, "text": {"value": "8.5 µm"}}},
{"data": {"values": [{}]}, "mark": {"type": "text", "align": "left", "baseline": "middle", "fontSize": 8.5, "color": "#1ed21e"},
 "encoding": {"x": {"datum": 48.7, "type": "quantitative", "axis": null}, "y": {"datum": 1.01, "type": "quantitative", "axis": null}, "text": {"value": "10.5 µm"}}},
{"data": {"values": [{}]}, "mark": {"type": "text", "align": "left", "baseline": "middle", "fontSize": 8.5, "color": "#1f2fd0"},
 "encoding": {"x": {"datum": 48.7, "type": "quantitative", "axis": null}, "y": {"datum": 0.93, "type": "quantitative", "axis": null}, "text": {"value": "12.5 µm"}}},
{"data": {"values": [{}]}, "mark": {"type": "text", "align": "left", "baseline": "middle", "font": "Liberation Serif", "fontSize": 10.5, "color": "black"},
 "encoding": {"x": {"datum": -19.13, "type": "quantitative", "axis": null}, "y": {"datum": -0.24, "type": "quantitative", "axis": null}, "text": {"value": "(d)"}}}
]
}
],
"config": {
"view": {"stroke": "black", "strokeWidth": 1},
"axis": {"grid": false, "domain": false, "tickColor": "black", "tickWidth": 1, "labelColor": "black", "titleColor": "black", "labelFont": "Liberation Sans", "labelFontWeight": "bold", "titleFont": "Liberation Serif", "titleFontWeight": "bold", "titleFontSize": 11, "labelFlush": false, "labelOverlap": false},
"axisX": {"labelFontSize": 11},
"axisY": {"labelFontSize": 10},
"text": {"font": "Liberation Sans", "fontWeight": "bold"}
}
}
